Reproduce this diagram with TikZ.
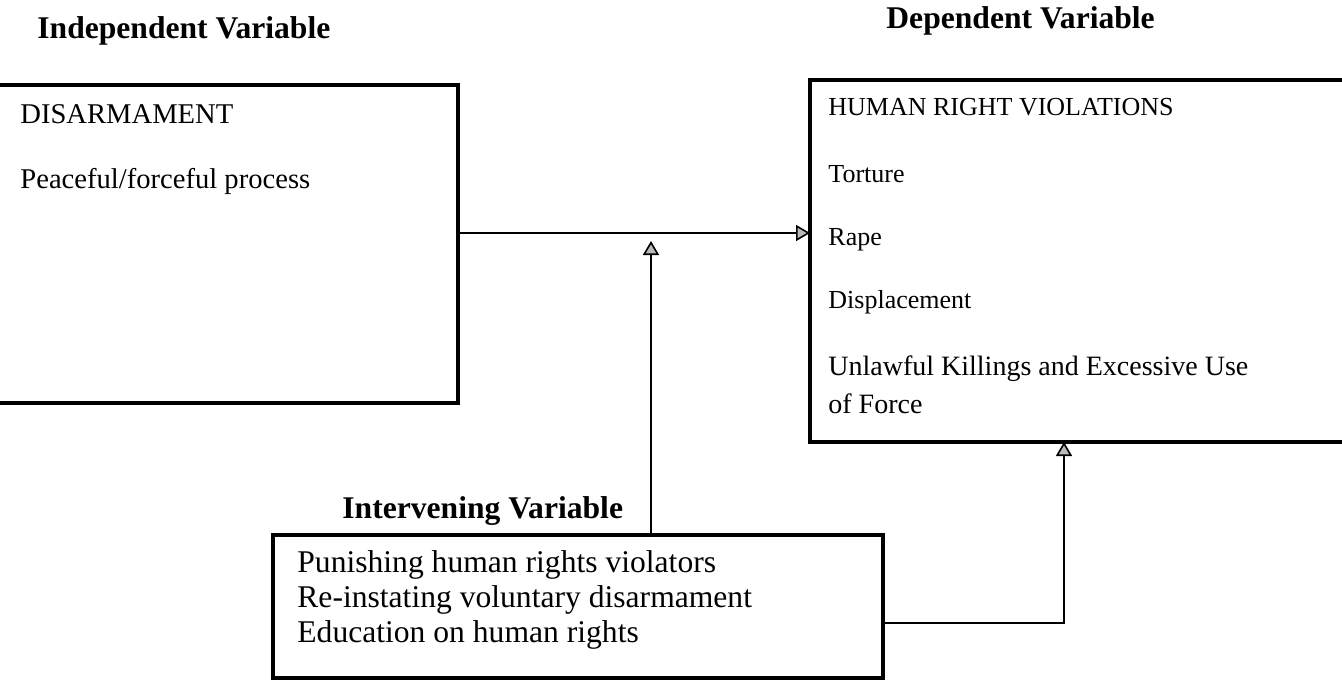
\documentclass[tikz,border=0pt]{standalone}
\usepackage{fontspec}
\setmainfont{Liberation Serif}
\usetikzlibrary{arrows.meta}
\tikzset{
  box/.style={draw, line width=1.6pt, anchor=north west, inner sep=0pt, outer sep=0pt, rectangle},
  txt/.style={anchor=base west, inner sep=0pt},
  head/.style={anchor=base west, inner sep=0pt, font=\fontsize{15.8pt}{18pt}\selectfont\bfseries},
  conn/.style={line width=0.8pt, -{Triangle[length=7pt,width=8pt,fill=gray!55]}},
}
\newcommand{\fsL}{\fontsize{14.3pt}{17pt}\selectfont}
\newcommand{\fsR}{\fontsize{13pt}{16pt}\selectfont}
\newcommand{\fsU}{\fontsize{14pt}{17pt}\selectfont}
\newcommand{\fsB}{\fontsize{15.8pt}{18pt}\selectfont}
\begin{document}
\begin{tikzpicture}[x=0.5pt,y=-0.5pt]
\useasboundingbox (0,0) rectangle (1342,680);
\clip (0,0) rectangle (1342,680);
\fill[white] (0,0) rectangle (1342,680);
% headings
\node[head] (hind) at (37,38) {Independent Variable};
\node[head] (hdep) at (886,28) {Dependent Variable};
\node[head] (hint) at (342,518) {Intervening Variable};
% boxes
\node[box, minimum width=239pt, minimum height=159pt] (lbox) at (-20,85) {};
\node[box, minimum width=280pt, minimum height=181pt] (rbox) at (810,80) {};
\node[box, minimum width=305pt, minimum height=71.5pt] (bbox) at (273,535) {};
% left box text
\node[txt, font=\fsL] (dis) at (20,123) {DISARMAMENT};
\node[txt, font=\fsL] (pea) at (20,188) {Peaceful/forceful process};
% right box text
\node[txt, font=\fsR] (hrv) at (828,115) {HUMAN RIGHT VIOLATIONS};
\node[txt, font=\fsR] (tor) at (828,182) {Torture};
\node[txt, font=\fsR] (rap) at (828,245) {Rape};
\node[txt, font=\fsR] (dsp) at (828,308) {Displacement};
\node[txt, font=\fsU] (unl) at (828,375) {Unlawful Killings and Excessive Use};
\node[txt, font=\fsU] (off) at (828,413) {of Force};
% bottom box text
\node[txt, font=\fsB] (pun) at (297,572) {Punishing human rights violators};
\node[txt, font=\fsB] (rei) at (297,607) {Re-instating voluntary disarmament};
\node[txt, font=\fsB] (edu) at (297,642) {Education on human rights};
% connectors
\coordinate (hy) at (0,233);
\coordinate (vx) at (651,0);
\coordinate (vtip) at (651,241);
\coordinate (cy) at (0,623);
\coordinate (cx) at (1064,0);
\coordinate (corner) at (1064,623);
\draw[conn] (lbox.east |- hy) -- (rbox.west |- hy);
\draw[conn] (bbox.north -| vx) -- (vtip);
\draw[conn] (bbox.east |- cy) -- (corner) -- (rbox.south -| cx);
\end{tikzpicture}
\end{document}
